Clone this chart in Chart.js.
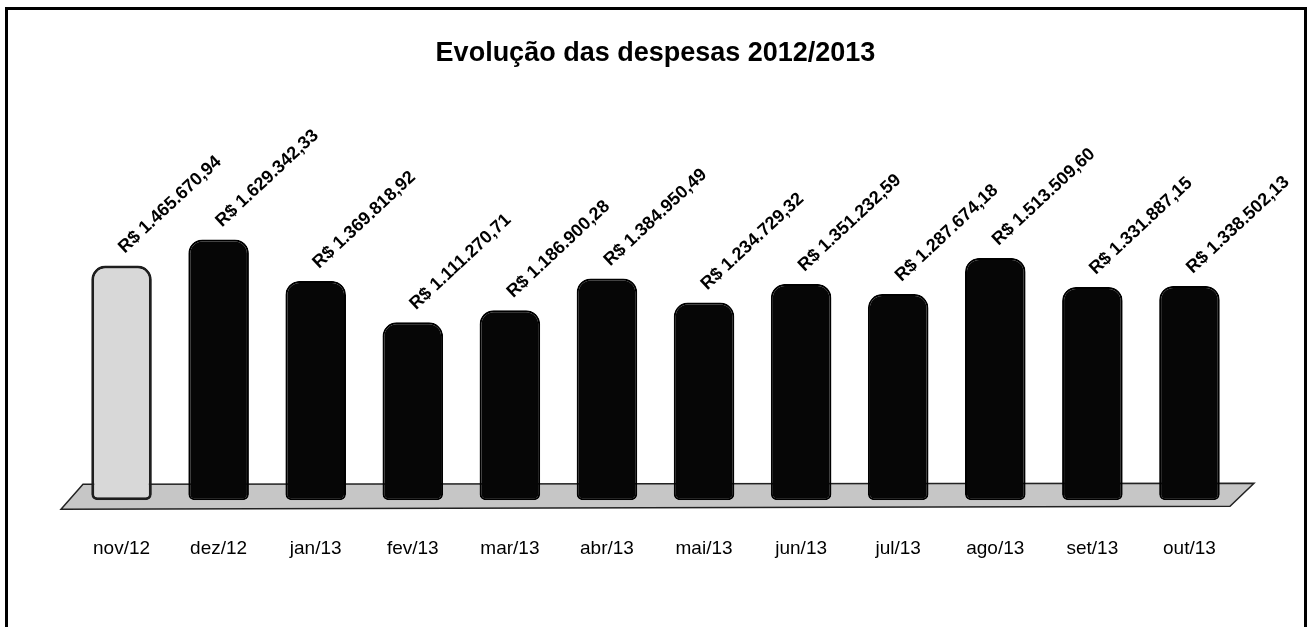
<!DOCTYPE html>
<html lang="pt">
<head>
  <meta charset="UTF-8">
  <title>Evolução das despesas 2012/2013</title>
  <script src="https://cdn.jsdelivr.net/npm/chart.js"></script>
  <style>
    html, body { margin: 0; padding: 0; background: #fff; }
    .wrap { position: relative; width: 1310px; height: 627px; overflow: hidden; }
    .frame {
      position: absolute; left: 5px; top: 7px; width: 1302px; height: 640px;
      border: 3px solid #000; box-sizing: border-box; pointer-events: none;
    }
  </style>
</head>
<body>
<div class="wrap">
  <canvas id="despesas" width="1310" height="627"></canvas>
  <div class="frame"></div>
</div>
<script>
  var meses = ['nov/12', 'dez/12', 'jan/13', 'fev/13', 'mar/13', 'abr/13',
               'mai/13', 'jun/13', 'jul/13', 'ago/13', 'set/13', 'out/13'];
  var despesas = [1465670.94, 1629342.33, 1369818.92, 1111270.71, 1186900.28, 1384950.49,
                  1234729.32, 1351232.59, 1287674.18, 1513509.60, 1331887.15, 1338502.13];
  var eixoMax = 2560000;

  // R$ 1.465.670,94
  function formatReal(v) {
    var partes = v.toFixed(2).split('.');
    var inteiro = partes[0].replace(/\B(?=(\d{3})+(?!\d))/g, '.');
    return 'R$ ' + inteiro + ',' + partes[1];
  }

  var corBarras = meses.map(function (m, i) { return i === 0 ? '#d8d8d8' : '#060606'; });
  var corBordas = meses.map(function (m, i) { return i === 0 ? '#1e1e1e' : '#000000'; });
  var larguraBorda = meses.map(function (m, i) { return i === 0 ? 3 : 2; });

  // gray floor under the bars
  var pisoPlugin = {
    id: 'piso',
    beforeDatasetsDraw: function (chart) {
      var a = chart.chartArea, ctx = chart.ctx;
      ctx.save();
      ctx.beginPath();
      ctx.moveTo(a.left + 10, a.bottom - 16);
      ctx.lineTo(a.right + 16, a.bottom - 17);
      ctx.lineTo(a.right - 8, a.bottom + 6);
      ctx.lineTo(a.left - 12, a.bottom + 9);
      ctx.closePath();
      ctx.fillStyle = '#c6c6c6';
      ctx.fill();
      ctx.lineWidth = 1.5;
      ctx.strokeStyle = '#222';
      ctx.stroke();
      ctx.restore();
    }
  };

  // rotated value labels above the bars
  var rotulosPlugin = {
    id: 'rotulos',
    afterDatasetsDraw: function (chart) {
      var ctx = chart.ctx;
      var meta = chart.getDatasetMeta(0);
      ctx.save();
      ctx.font = 'bold 18px "Liberation Sans", sans-serif';
      ctx.fillStyle = '#000';
      ctx.textAlign = 'left';
      ctx.textBaseline = 'bottom';
      meta.data.forEach(function (bar, i) {
        ctx.save();
        ctx.translate(bar.x + 6, bar.y - 9);
        ctx.rotate(-43 * Math.PI / 180);
        ctx.fillText(formatReal(despesas[i]), 0, 0);
        ctx.restore();
      });
      ctx.restore();
    }
  };

  var ctx = document.getElementById('despesas').getContext('2d');
  var grafico = new Chart(ctx, {
    type: 'bar',
    data: {
      labels: meses,
      datasets: [{
        data: despesas,
        backgroundColor: corBarras,
        borderColor: corBordas,
        borderWidth: larguraBorda,
        borderSkipped: false,
        borderRadius: { topLeft: 14, topRight: 14, bottomLeft: 6, bottomRight: 6 },
        barPercentage: 0.78,
        categoryPercentage: 0.8
      }]
    },
    options: {
      responsive: false,
      animation: false,
      layout: { padding: { left: 73, right: 72, top: 12, bottom: 30 } },
      plugins: {
        legend: { display: false },
        tooltip: { enabled: false },
        title: {
          display: true,
          text: 'Evolução das despesas 2012/2013',
          color: '#000',
          font: { family: '"Liberation Sans", sans-serif', size: 27, weight: 'bold' },
          padding: { top: 25, bottom: 21 }
        }
      },
      scales: {
        x: {
          grid: { display: false, drawTicks: false },
          border: { display: false },
          ticks: {
            color: '#000',
            padding: 37,
            font: { family: '"Liberation Sans", sans-serif', size: 19 }
          }
        },
        y: {
          display: false,
          min: 0,
          max: eixoMax
        }
      }
    },
    plugins: [pisoPlugin, rotulosPlugin]
  });
</script>
</body>
</html>
